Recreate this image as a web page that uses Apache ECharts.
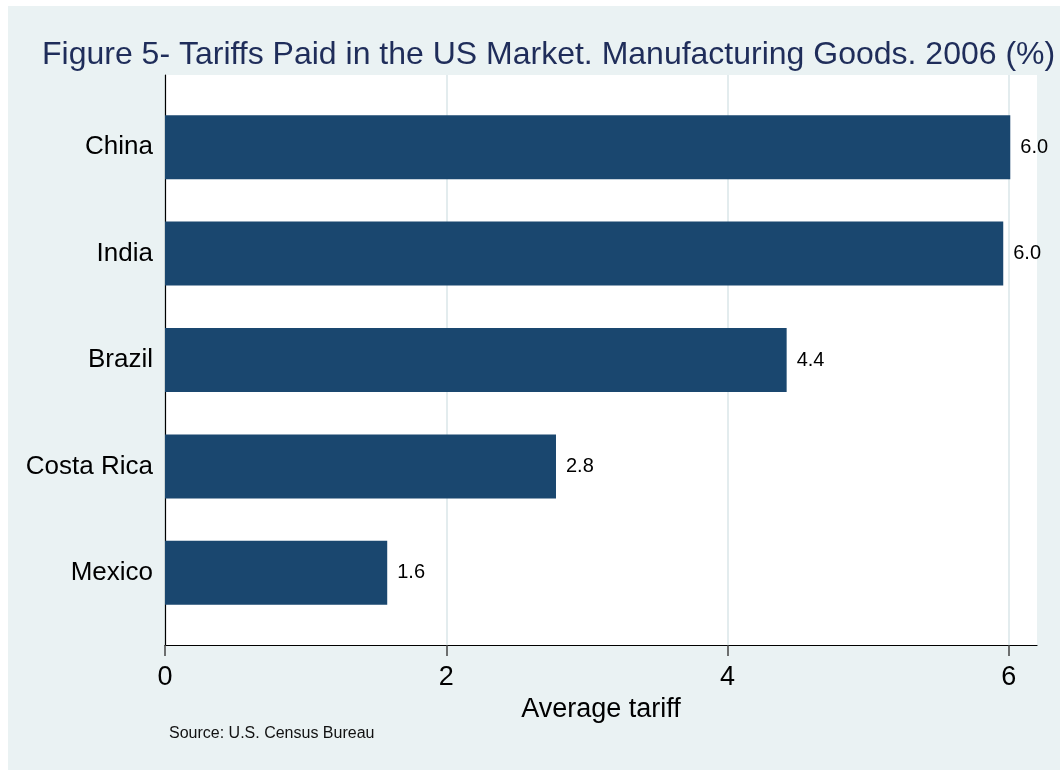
<!DOCTYPE html>
<html>
<head>
<meta charset="utf-8">
<script src="https://cdn.jsdelivr.net/npm/echarts@6/dist/echarts.min.js"></script>
<style>
  html, body { margin: 0; padding: 0; background: #ffffff; }
  #chart { position: absolute; left: 8px; top: 6px; width: 1052px; height: 764px; background: #EAF2F3; }
</style>
</head>
<body>
<div id="chart"></div>
<script>
// Chart data
const countries = ['China', 'India', 'Brazil', 'Costa Rica', 'Mexico']
const tariffs = [6.01, 5.96, 4.42, 2.78, 1.58]
const xTicks = [0, 2, 4, 6]

const FONT = '"Liberation Sans", Arial, sans-serif'
const BAR_COLOR = '#1A476F'

const chart = echarts.init(document.getElementById('chart'))

const option = {
  animation: false,
  title: {
    text: 'Figure 5- Tariffs Paid in the US Market. Manufacturing Goods. 2006 (%)',
    left: 29,
    top: 28,
    textStyle: { fontFamily: FONT, fontSize: 32, fontWeight: 'normal', color: '#1F2D5A' }
  },
  graphic: [
    {
      type: 'text',
      left: 161,
      top: 720,
      style: { text: 'Source: U.S. Census Bureau', font: '16px ' + FONT, fill: '#111' }
    }
  ],
  grid: [
    // frame: white plot region, axes, ticks, gridlines
    { left: 157, right: 23, top: 69, bottom: 125, show: true, backgroundColor: '#ffffff', borderWidth: 0 },
    // bars
    { left: 157, right: 23, top: 88, bottom: 144 }
  ],
  xAxis: [
    {
      gridIndex: 0,
      type: 'value',
      min: 0,
      max: 6.2,
      interval: 2,
      name: 'Average tariff',
      nameLocation: 'middle',
      nameGap: 40,
      nameTextStyle: { fontFamily: FONT, fontSize: 27, color: '#000' },
      axisLine: { show: true, lineStyle: { color: '#000', width: 1.2 } },
      axisTick: { show: true, length: 11, customValues: xTicks, lineStyle: { color: '#444', width: 1.5 } },
      axisLabel: { customValues: xTicks, fontFamily: FONT, fontSize: 27, color: '#000', margin: 19 },
      splitLine: { show: true, lineStyle: { color: '#E3ECEE', width: 2 } }
    },
    {
      gridIndex: 1,
      type: 'value',
      min: 0,
      max: 6.2,
      show: false
    }
  ],
  yAxis: [
    {
      gridIndex: 0,
      type: 'value',
      min: 0,
      max: 1,
      axisLine: { show: true, lineStyle: { color: '#000', width: 1.2 } },
      axisTick: { show: false },
      axisLabel: { show: false },
      splitLine: { show: false }
    },
    {
      gridIndex: 1,
      type: 'category',
      inverse: true,
      data: countries,
      axisLine: { show: false },
      axisTick: { show: false },
      axisLabel: { fontFamily: FONT, fontSize: 26, color: '#000', margin: 12, padding: [4, 0, 0, 0] }
    }
  ],
  series: [
    {
      type: 'bar',
      xAxisIndex: 1,
      yAxisIndex: 1,
      data: tariffs,
      barWidth: 64,
      itemStyle: { color: BAR_COLOR },
      label: {
        show: true,
        position: 'right',
        distance: 10,
        fontFamily: FONT,
        fontSize: 20,
        color: '#000',
        formatter: p => p.value.toFixed(1)
      }
    }
  ]
}

chart.setOption(option)
</script>
</body>
</html>
